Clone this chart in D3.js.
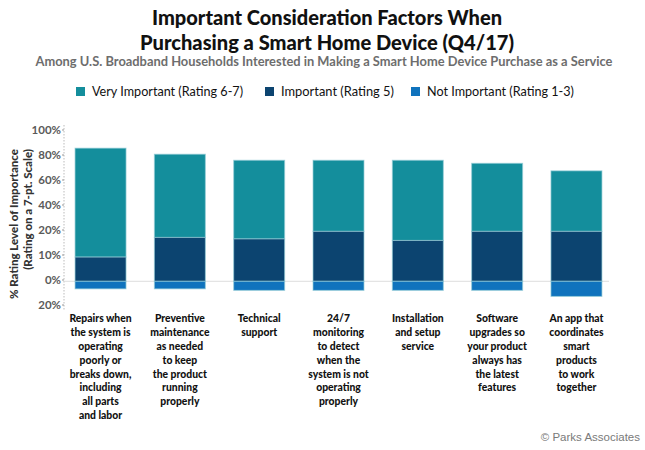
<!DOCTYPE html>
<html><head><meta charset="utf-8">
<script src="https://cdn.jsdelivr.net/npm/d3@7"></script>
<style>
body{margin:0;background:#fff;}
svg{display:block;}
</style></head>
<body>
<svg id="chart" width="645" height="450"></svg>
<script>
const categories = [
  ["Repairs when","the system is","operating","poorly or","breaks down,","including","all parts","and labor"],
  ["Preventive","maintenance","as needed","to keep","the product","running","properly"],
  ["Technical","support"],
  ["24/7","monitoring","to detect","when the","system is not","operating","properly"],
  ["Installation","and setup","service"],
  ["Software","upgrades so","your product","always has","the latest","features"],
  ["An app that","coordinates","smart","products","to work","together"]
];
const veryImportant = [72, 55, 52, 47, 53, 45, 40];
const important     = [16, 29, 28, 33, 27, 33, 33];
const notImportant  = [5, 5, 6, 6, 6, 6, 10];
const tickLabels = ["100%","80%","60%","40%","20%","10%","0%","20%"];
const seriesNames = ["Very Important (Rating 6-7)","Important (Rating 5)","Not Important (Rating 1-3)"];
const colors = ["#148e9c","#0c4470","#1073bd"];

const svg = d3.select("#chart");
const sans = "Lato,'Open Sans',sans-serif";

function fit(sel, w){ sel.each(function(){ const l=this.getComputedTextLength(); if(l>0){ this.setAttribute("textLength", w); this.setAttribute("lengthAdjust","spacingAndGlyphs"); } }); }

// Title
svg.append("text").attr("x",327).attr("y",25).attr("text-anchor","middle")
  .style("font-family",sans).style("font-weight","900").style("font-size","20px").attr("fill","#111")
  .text("Important Consideration Factors When").call(fit,350);
svg.append("text").attr("x",327).attr("y",50).attr("text-anchor","middle")
  .style("font-family",sans).style("font-weight","900").style("font-size","20px").attr("fill","#111")
  .text("Purchasing a Smart Home Device (Q4/17)").call(fit,374);
svg.append("text").attr("x",324).attr("y",66).attr("text-anchor","middle")
  .style("font-family",sans).style("font-weight","700").style("font-size","12.5px").attr("fill","#6d6d6d")
  .text("Among U.S. Broadband Households Interested in Making a Smart Home Device Purchase as a Service").call(fit,577);

// Legend
const legX = [76, 265, 411], legW = [151, 113, 147];
seriesNames.forEach((n,i)=>{
  svg.append("rect").attr("x",legX[i]).attr("y",87).attr("width",9).attr("height",9).attr("fill",colors[i]);
  svg.append("text").attr("x",legX[i]+16).attr("y",96).style("font-family",sans).style("font-size","12.5px")
    .attr("fill","#111").text(n).call(fit,legW[i]);
});

// Scales
const x = d3.scaleBand().domain(d3.range(categories.length)).range([61,616]).paddingInner(0.357).paddingOuter(0.177);
const y = d3.scaleLinear().domain([-16,100]).range([305.5,130]);
const yTick = d3.scalePoint().domain(d3.range(tickLabels.length)).range([130,305]);

// y axis dotted line
svg.append("line").attr("x1",64).attr("x2",64).attr("y1",125).attr("y2",310)
  .attr("stroke","#bbb").attr("stroke-width",1).attr("stroke-dasharray","1.5,1.5");
tickLabels.forEach((t,i)=>{
  const yy = yTick(i);
  svg.append("line").attr("x1",62).attr("x2",64).attr("y1",yy).attr("y2",yy).attr("stroke","#999");
  svg.append("text").attr("x",61).attr("y",yy+4).attr("text-anchor","end")
    .style("font-family",sans).style("font-weight","700").style("font-size","11.5px").attr("fill","#5a5a5a").text(t);
});

// y title
const yt = svg.append("text").attr("transform","translate(18,149) rotate(-90)").attr("text-anchor","end")
  .style("font-family",sans).style("font-weight","900").style("font-size","11.5px").attr("fill","#333");
yt.append("tspan").attr("x",0).attr("y",0).text("% Rating Level of Importance");
yt.append("tspan").attr("x",0).attr("y",14).text("(Rating on a 7-pt. Scale)");

// zero line
svg.append("line").attr("x1",64).attr("x2",609).attr("y1",y(0)).attr("y2",y(0)).attr("stroke","#ddd");

// bars
const g = svg.append("g");
const sx = 0.9;
categories.forEach((c,i)=>{
  const bx = x(i), bw = x.bandwidth();
  const segs = [
    {y0:important[i], y1:important[i]+veryImportant[i], c:colors[0]},
    {y0:0, y1:important[i], c:colors[1]},
    {y0:-notImportant[i], y1:0, c:colors[2]}
  ];
  segs.forEach(s=>{
    g.append("rect").attr("x",bx).attr("width",bw).attr("y",y(s.y1)).attr("height",y(s.y0)-y(s.y1))
      .attr("fill",s.c).attr("stroke","rgba(150,205,215,0.7)").attr("stroke-width",1);
  });
  const cx = bx + bw/2;
  const t = svg.append("text").attr("text-anchor","middle").attr("transform",`translate(${cx},0) scale(${sx},1)`)
    .style("font-family",sans).style("font-weight","900").style("font-size","11.5px").attr("fill","#111");
  c.forEach((line,j)=>{
    t.append("tspan").attr("x",0).attr("y",322+j*13.9).text(line);
  });
});

// copyright
svg.append("text").attr("x",640).attr("y",441).attr("text-anchor","end")
  .style("font-family","'Liberation Sans',Arial,sans-serif").style("font-size","11.5px").attr("fill","#7a7a7a")
  .text("\u00a9 Parks Associates");
</script>
</body></html>
